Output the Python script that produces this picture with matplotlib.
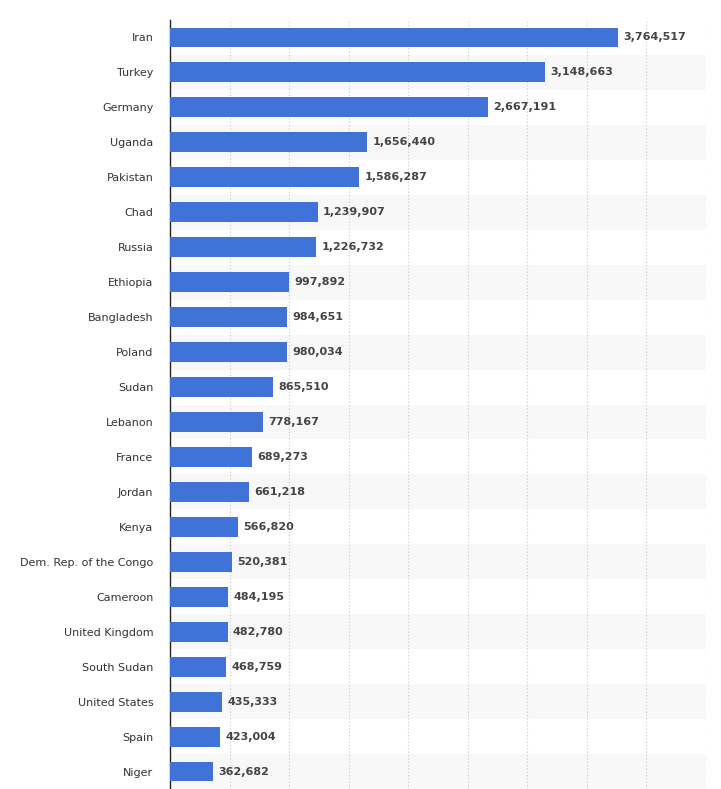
import matplotlib
matplotlib.use("Agg")
import matplotlib.pyplot as plt

countries = ["Iran", "Turkey", "Germany", "Uganda", "Pakistan", "Chad", "Russia",
             "Ethiopia", "Bangladesh", "Poland", "Sudan", "Lebanon", "France",
             "Jordan", "Kenya", "Dem. Rep. of the Congo", "Cameroon",
             "United Kingdom", "South Sudan", "United States", "Spain", "Niger"]
refugees = [3764517, 3148663, 2667191, 1656440, 1586287, 1239907, 1226732,
            997892, 984651, 980034, 865510, 778167, 689273, 661218, 566820,
            520381, 484195, 482780, 468759, 435333, 423004, 362682]

fig = plt.figure(figsize=(7.21, 7.89), dpi=100)
ax = fig.add_axes([170 / 721, 0.0, 536 / 721, 1 - 20 / 789])

n = len(countries)
ys = list(range(n))
for i in ys:
    if i % 2 == 1:
        ax.axhspan(i - 0.5, i + 0.5, color="#f8f8f8", zorder=0, lw=0)

ax.barh(ys, refugees, height=0.57, color="#3f73d7", zorder=3)
for y, v in zip(ys, refugees):
    ax.text(v + 45000, y, f"{v:,}", va="center", ha="left", fontsize=8,
            fontweight="bold", color="#444444", zorder=4)

ax.set_xlim(0, 4500000)
ax.set_ylim(n - 0.5, -0.5)
ax.set_xticks([i * 500000 for i in range(1, 10)])
ax.xaxis.grid(True, linestyle=(0, (1, 2)), color="#c8c8c8", lw=0.8, zorder=1)
ax.tick_params(axis="x", length=0, labelbottom=False)
ax.set_yticks(ys)
ax.set_yticklabels(countries, fontsize=8, color="#333333")
ax.tick_params(axis="y", length=0, pad=12)
for s in ["top", "right", "bottom"]:
    ax.spines[s].set_visible(False)
ax.spines["left"].set_color("#222222")
ax.spines["left"].set_linewidth(1.0)

fig.savefig("out.png", dpi=100)
